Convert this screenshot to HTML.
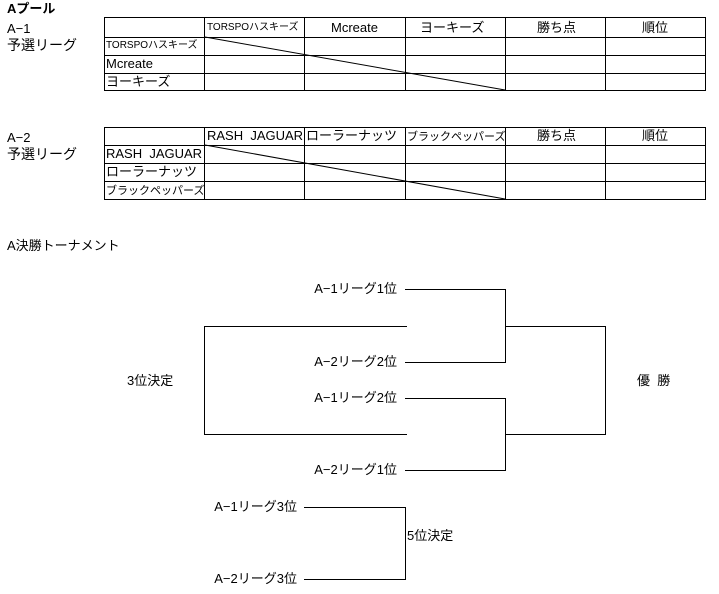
<!DOCTYPE html>
<html><head><meta charset="utf-8"><style>
body{margin:0;background:#fff;width:719px;height:594px;overflow:hidden;position:relative;font-family:"Liberation Sans","Noto Sans CJK JP",sans-serif;color:#000;font-size:13px}
.t{position:absolute;white-space:nowrap;line-height:16px}
.r{text-align:right}
</style></head><body>
<svg width="719" height="594" style="position:absolute;left:0;top:0" shape-rendering="crispEdges">
<g stroke="#000" stroke-width="1" fill="none">
<!-- table 1 -->
<rect x="104.5" y="17.5" width="601" height="73"/>
<line x1="104" y1="37.5" x2="705" y2="37.5"/>
<line x1="104" y1="55.5" x2="705" y2="55.5"/>
<line x1="104" y1="73.5" x2="705" y2="73.5"/>
<line x1="204.5" y1="17" x2="204.5" y2="91"/>
<line x1="304.5" y1="17" x2="304.5" y2="91"/>
<line x1="405.5" y1="17" x2="405.5" y2="91"/>
<line x1="505.5" y1="17" x2="505.5" y2="91"/>
<line x1="605.5" y1="17" x2="605.5" y2="91"/>
<line x1="205" y1="37" x2="505" y2="90" shape-rendering="auto"/>
<!-- table 2 -->
<rect x="104.5" y="127.5" width="601" height="72"/>
<line x1="104" y1="145.5" x2="705" y2="145.5"/>
<line x1="104" y1="163.5" x2="705" y2="163.5"/>
<line x1="104" y1="181.5" x2="705" y2="181.5"/>
<line x1="204.5" y1="127" x2="204.5" y2="200"/>
<line x1="304.5" y1="127" x2="304.5" y2="200"/>
<line x1="405.5" y1="127" x2="405.5" y2="200"/>
<line x1="505.5" y1="127" x2="505.5" y2="200"/>
<line x1="605.5" y1="127" x2="605.5" y2="200"/>
<line x1="205" y1="145" x2="505" y2="199" shape-rendering="auto"/>
<!-- bracket -->
<polyline points="405,289.5 505.5,289.5 505.5,362.5 405,362.5"/>
<polyline points="405,398.5 505.5,398.5 505.5,470.5 405,470.5"/>
<polyline points="505,326.5 605.5,326.5 605.5,434.5 505,434.5"/>
<polyline points="407,326.5 204.5,326.5 204.5,434.5 407,434.5"/>
<polyline points="304,507.5 405.5,507.5 405.5,579.5 304,579.5"/>
</g></svg>
<div class="t" style="left:7px;top:1px;font-weight:bold">Aプール</div>
<div class="t" style="left:7px;top:21px">A−1</div>
<div class="t" style="left:7px;top:37px;font-size:14px">予選リーグ</div>
<div class="t" style="left:207px;top:20px;font-size:10px">TORSPOハスキーズ</div>
<div class="t" style="left:331px;top:20px">Mcreate</div>
<div class="t" style="left:420px;top:20px">ヨーキーズ</div>
<div class="t" style="left:537px;top:20px">勝ち点</div>
<div class="t" style="left:642px;top:20px">順位</div>
<div class="t" style="left:106px;top:38px;font-size:10px">TORSPOハスキーズ</div>
<div class="t" style="left:106px;top:56px">Mcreate</div>
<div class="t" style="left:106px;top:74px">ヨーキーズ</div>
<div class="t" style="left:7px;top:130px">A−2</div>
<div class="t" style="left:7px;top:146px;font-size:14px">予選リーグ</div>
<div class="t" style="left:207px;top:128px">RASH&nbsp; JAGUAR</div>
<div class="t" style="left:306px;top:128px">ローラーナッツ</div>
<div class="t" style="left:407px;top:129px;font-size:11px">ブラックペッパーズ</div>
<div class="t" style="left:537px;top:128px">勝ち点</div>
<div class="t" style="left:642px;top:128px">順位</div>
<div class="t" style="left:106px;top:146px">RASH&nbsp; JAGUAR</div>
<div class="t" style="left:106px;top:164px">ローラーナッツ</div>
<div class="t" style="left:106px;top:183px;font-size:11px">ブラックペッパーズ</div>
<div class="t" style="left:7px;top:238px">A決勝トーナメント</div>
<div class="t r" style="right:322px;top:281px">A−1リーグ1位</div>
<div class="t r" style="right:322px;top:354px">A−2リーグ2位</div>
<div class="t r" style="right:322px;top:390px">A−1リーグ2位</div>
<div class="t r" style="right:322px;top:462px">A−2リーグ1位</div>
<div class="t" style="left:127px;top:373px">3位決定</div>
<div class="t" style="left:637px;top:373px">優&nbsp; 勝</div>
<div class="t r" style="right:422px;top:499px">A−1リーグ3位</div>
<div class="t r" style="right:422px;top:571px">A−2リーグ3位</div>
<div class="t" style="left:407px;top:528px">5位決定</div>
</body></html>
